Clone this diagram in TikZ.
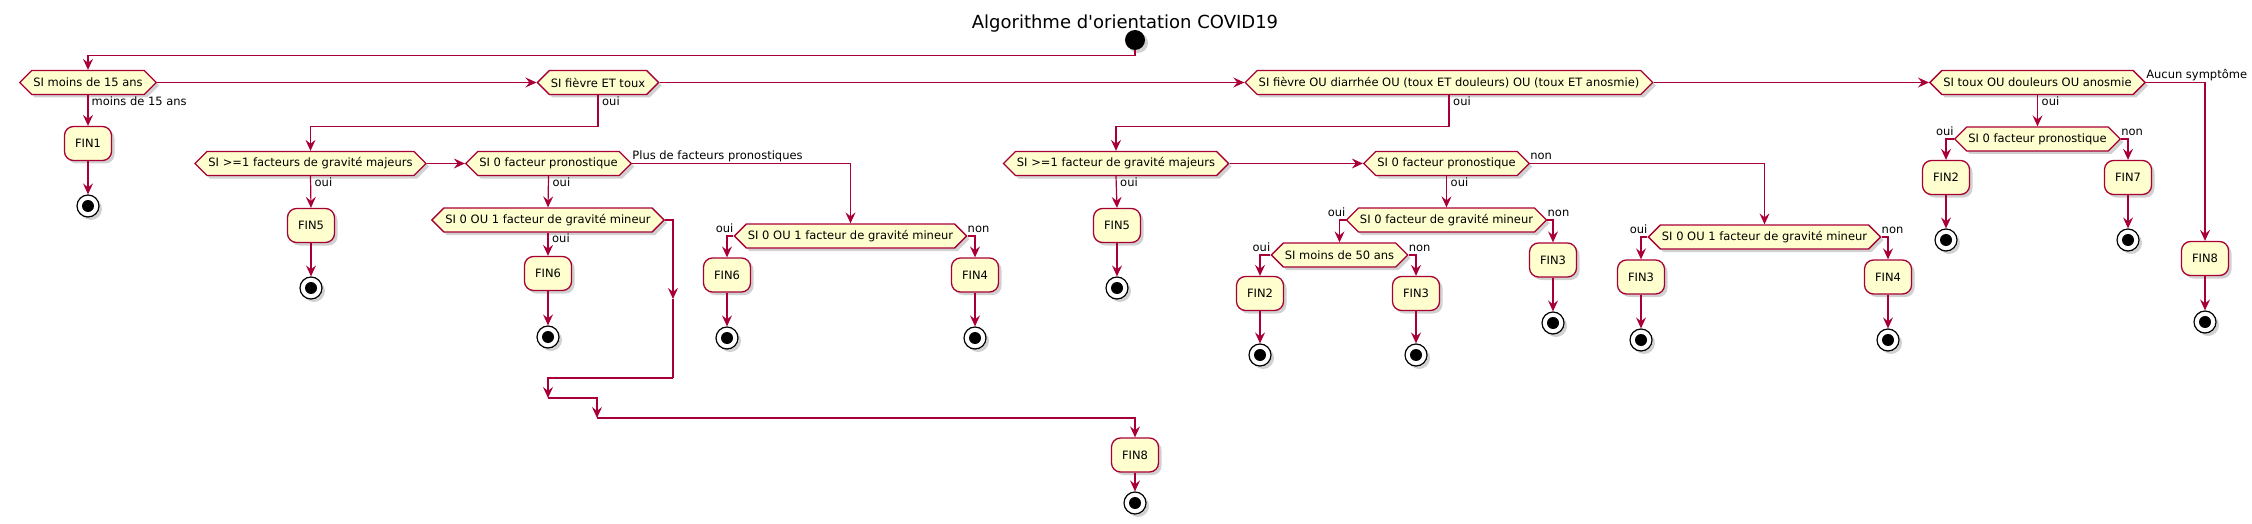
\documentclass[tikz,border=0pt]{standalone}
\usepackage{fontspec}
\setmainfont{DejaVu Sans}
\usetikzlibrary{shapes.symbols,arrows.meta,shadows,calc}
\definecolor{umlred}{HTML}{A80036}
\definecolor{umlfill}{HTML}{FEFECE}
\newcommand\fsz{\fontsize{11.5}{13}\selectfont}
\newcommand\ftitle{\fontsize{18}{21}\selectfont}
\tikzset{
  x=1pt, y=-1pt,
  shadowed/.style={drop shadow={shadow xshift=3pt, shadow yshift=-3pt, opacity=0.3, fill=black!60}},
  conn/.style={draw=umlred, line width=1.2pt},
  arr/.style={conn, -{Stealth[length=11pt,width=10pt,inset=4pt]}},
  dec/.style={signal, signal to=east and west, signal pointer angle=90, draw=umlred, fill=umlfill,
    line width=1.3pt, inner xsep=1.5pt, inner ysep=0pt, minimum height=24pt, font=\fsz, shadowed},
  act/.style={rectangle, rounded corners=9pt, draw=umlred, fill=umlfill, line width=1.3pt,
    minimum width=47pt, minimum height=34pt, inner sep=0pt, font=\fsz, shadowed},
  stopc/.style={circle, draw=black, fill=white, line width=1.2pt, minimum size=22pt, inner sep=0pt, shadowed,
    path picture={\fill[black] (path picture bounding box.center) circle (6pt);}},
  startc/.style={circle, fill=black, minimum size=20pt, inner sep=0pt, shadowed},
  lab/.style={inner sep=0pt, font=\fsz},
}
\begin{document}
\begin{tikzpicture}
\useasboundingbox (0,0) rectangle (2252,524);
\node[font=\ftitle, anchor=base] (title) at (1125,28.5) {Algorithme d\textquotesingle orientation COVID19};
\node[startc] (start) at (1135,40) {};
% row A
\node[dec] (d1) at (88,82.5) {SI moins de 15 ans};
\node[dec] (d2) at (598,82.5) {SI fièvre ET toux};
\node[dec] (d3) at (1449,82.5) {SI fièvre OU diarrhée OU (toux ET douleurs) OU (toux ET anosmie)};
\node[dec] (d4) at (2037.5,82.5) {SI toux OU douleurs OU anosmie};
% left column
\node[act] (fin1) at (88,143.5) {FIN1};
\node[stopc] (e1) at (88,206) {};
% group under d2
\node[dec] (b1) at (310.5,163.5) {SI >=1 facteurs de gravité majeurs};
\node[dec] (b2) at (548.5,163.5) {SI 0 facteur pronostique};
\node[act] (fin5a) at (311,225.5) {FIN5};
\node[stopc] (e5a) at (311,288) {};
\node[dec] (c1) at (548,220) {SI 0 OU 1 facteur de gravité mineur};
\node[act] (fin6a) at (548,273.5) {FIN6};
\node[stopc] (e6a) at (548,337) {};
\node[dec] (c2) at (850.5,236) {SI 0 OU 1 facteur de gravité mineur};
\node[act] (fin6b) at (727,275) {FIN6};
\node[stopc] (e6b) at (727,338) {};
\node[act] (fin4a) at (975,275) {FIN4};
\node[stopc] (e4a) at (975,338) {};
\node[act] (fin8) at (1135,455) {FIN8};
\node[stopc] (e8) at (1135,503) {};
% group under d3
\node[dec] (eb1) at (1116,163.5) {SI >=1 facteur de gravité majeurs};
\node[dec] (eb2) at (1446.5,163.5) {SI 0 facteur pronostique};
\node[act] (fin5b) at (1117,225.5) {FIN5};
\node[stopc] (e5b) at (1117,288) {};
\node[dec] (f1) at (1446.5,220) {SI 0 facteur de gravité mineur};
\node[dec] (g1) at (1339.5,255) {SI moins de 50 ans};
\node[act] (fin2a) at (1260,293.5) {FIN2};
\node[stopc] (e2a) at (1260,355) {};
\node[act] (fin3a) at (1416,293.5) {FIN3};
\node[stopc] (e3a) at (1416,355) {};
\node[act] (fin3b) at (1553,260) {FIN3};
\node[stopc] (e3b) at (1553,323) {};
\node[dec] (f2) at (1764.5,237) {SI 0 OU 1 facteur de gravité mineur};
\node[act] (fin3c) at (1641,277) {FIN3};
\node[stopc] (e3c) at (1641,340) {};
\node[act] (fin4b) at (1888,277) {FIN4};
\node[stopc] (e4b) at (1888,340) {};
% group under d4
\node[dec] (h1) at (2037.5,139) {SI 0 facteur pronostique};
\node[act] (fin2b) at (1946,177.5) {FIN2};
\node[stopc] (e2b) at (1946,240) {};
\node[act] (fin7) at (2128,177.5) {FIN7};
\node[stopc] (e7) at (2128,240) {};
\node[act] (fin8b) at (2205,258.5) {FIN8};
\node[stopc] (e8b) at (2205,322) {};
% merge coordinates
\coordinate (ma) at (673,299);
\coordinate (m0) at (673,378);
\coordinate (m1) at (548,398);
\coordinate (m2) at (597,418);
% connectors
\draw[arr] (start.south) -- ++(0,5) -| (d1.north);
\draw[arr] (d1.east) -- (d2.west);
\draw[arr] (d2.east) -- (d3.west);
\draw[arr] (d3.east) -- (d4.west);
\draw[arr] (d1.south) -- (fin1.north);
\draw[arr] (fin1.south) -- (e1.north);
\draw[arr] (d2.south) -- ++(0,31.5) -| (b1.north);
\draw[arr] (b1.east) -- (b2.west);
\draw[arr] (b1.south) -- (fin5a.north);
\draw[arr] (fin5a.south) -- (e5a.north);
\draw[arr] (b2.south) -- (c1.north);
\draw[arr] (c1.south) -- (fin6a.north);
\draw[arr] (fin6a.south) -- (e6a.north);
\draw[arr] (b2.east) -| (c2.north);
\draw[arr] (c2.west) -| (fin6b.north);
\draw[arr] (c2.east) -| (fin4a.north);
\draw[arr] (fin6b.south) -- (e6b.north);
\draw[arr] (fin4a.south) -- (e4a.north);
\draw[arr] (c1.east) -| (ma);
\draw[conn] (ma) -- (m0);
\draw[arr] (m0) -| (m1);
\draw[arr] (m1) -| (m2);
\draw[arr] (m2) -| (fin8.north);
\draw[arr] (fin8.south) -- (e8.north);
\draw[arr] (d3.south) -- ++(0,31.5) -| (eb1.north);
\draw[arr] (eb1.east) -- (eb2.west);
\draw[arr] (eb1.south) -- (fin5b.north);
\draw[arr] (fin5b.south) -- (e5b.north);
\draw[arr] (eb2.south) -- (f1.north);
\draw[arr] (eb2.east) -| (f2.north);
\draw[arr] (f1.west) -| (g1.north);
\draw[arr] (f1.east) -| (fin3b.north);
\draw[arr] (fin3b.south) -- (e3b.north);
\draw[arr] (g1.west) -| (fin2a.north);
\draw[arr] (g1.east) -| (fin3a.north);
\draw[arr] (fin2a.south) -- (e2a.north);
\draw[arr] (fin3a.south) -- (e3a.north);
\draw[arr] (f2.west) -| (fin3c.north);
\draw[arr] (f2.east) -| (fin4b.north);
\draw[arr] (fin3c.south) -- (e3c.north);
\draw[arr] (fin4b.south) -- (e4b.north);
\draw[arr] (d4.south) -- (h1.north);
\draw[arr] (h1.west) -| (fin2b.north);
\draw[arr] (h1.east) -| (fin7.north);
\draw[arr] (fin2b.south) -- (e2b.north);
\draw[arr] (fin7.south) -- (e7.north);
\draw[arr] (d4.east) -| (fin8b.north);
\draw[arr] (fin8b.south) -- (e8b.north);
% labels below decisions
\node[lab, anchor=base west] (l1) at ($(d1.south)+(3.5,10)$) {moins de 15 ans};
\node[lab, anchor=base west] (l2) at ($(d2.south)+(4,10)$) {oui};
\node[lab, anchor=base west] (l3) at ($(d3.south)+(4,10)$) {oui};
\node[lab, anchor=base west] (l4) at ($(d4.south)+(4,10)$) {oui};
\node[lab, anchor=base west] (l5) at ($(b1.south)+(4,10)$) {oui};
\node[lab, anchor=base west] (l6) at ($(b2.south)+(4,10)$) {oui};
\node[lab, anchor=base west] (l7) at ($(c1.south)+(4,10)$) {oui};
\node[lab, anchor=base west] (l8) at ($(eb1.south)+(4,10)$) {oui};
\node[lab, anchor=base west] (l9) at ($(eb2.south)+(4,10)$) {oui};
% side labels
\node[lab, anchor=base west] (s1) at ($(b2.east)+(0,-3.5)$) {Plus de facteurs pronostiques};
\node[lab, anchor=base west] (s2) at ($(d4.east)+(0,-3.5)$) {Aucun symptôme};
\node[lab, anchor=base west] (s3) at ($(eb2.east)+(0,-3.5)$) {non};
\node[lab, anchor=base east] (s4) at ($(c2.west)+(0,-3.5)$) {oui};
\node[lab, anchor=base west] (s5) at ($(c2.east)+(0,-3.5)$) {non};
\node[lab, anchor=base east] (s6) at ($(f1.west)+(0,-3.5)$) {oui};
\node[lab, anchor=base west] (s7) at ($(f1.east)+(0,-3.5)$) {non};
\node[lab, anchor=base east] (s8) at ($(g1.west)+(0,-3.5)$) {oui};
\node[lab, anchor=base west] (s9) at ($(g1.east)+(0,-3.5)$) {non};
\node[lab, anchor=base east] (s10) at ($(f2.west)+(0,-3.5)$) {oui};
\node[lab, anchor=base west] (s11) at ($(f2.east)+(0,-3.5)$) {non};
\node[lab, anchor=base east] (s12) at ($(h1.west)+(0,-3.5)$) {oui};
\node[lab, anchor=base west] (s13) at ($(h1.east)+(0,-3.5)$) {non};
\end{tikzpicture}
\end{document}
